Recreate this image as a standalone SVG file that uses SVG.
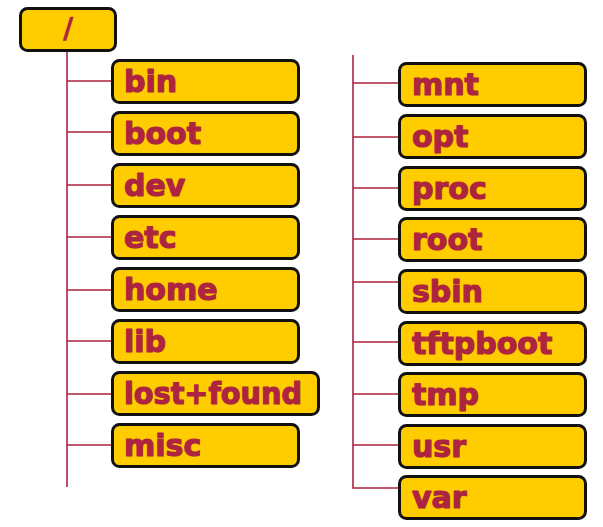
<svg xmlns="http://www.w3.org/2000/svg" width="603" height="527" viewBox="0 0 603 527">
<style>
.box{fill:#FFCC00;stroke:#111;stroke-width:3}
.lbl{font-family:"DejaVu Sans",Verdana,sans-serif;font-weight:bold;font-size:30px;fill:#AD2440;stroke:#AD2440;stroke-width:1.2;stroke-linejoin:round}
.ln{stroke:#AD2440;stroke-width:1.6;fill:none}
</style>
<rect width="603" height="527" fill="#fff"/>
<g id="connectors">
<path class="ln" d="M67 52V487"/>
<path class="ln" d="M67 81H111M67 132H111M67 185H111M67 237H111M67 290H111M67 341H111M67 394H111M67 445H111"/>
<path class="ln" d="M353 55V488H398"/>
<path class="ln" d="M353 83H398M353 137H398M353 188H398M353 239H398M353 282H398M353 342H398M353 394H398M353 445H398"/>
</g>
<g id="root"><rect class="box" x="20.5" y="8.5" width="95" height="42" rx="7"/><text class="lbl" x="68" y="38" text-anchor="middle" style="font-size:28px;stroke-width:0.4">/</text></g>
<g id="bin"><rect class="box" x="112.5" y="60.5" width="186" height="42" rx="7"/><text class="lbl" x="124" y="92">bin</text></g>
<g id="boot"><rect class="box" x="112.5" y="112.5" width="186" height="42" rx="7"/><text class="lbl" x="124" y="144">boot</text></g>
<g id="dev"><rect class="box" x="112.5" y="164.5" width="186" height="42" rx="7"/><text class="lbl" x="124" y="196">dev</text></g>
<g id="etc"><rect class="box" x="112.5" y="216.5" width="186" height="42" rx="7"/><text class="lbl" x="124" y="248">etc</text></g>
<g id="home"><rect class="box" x="112.5" y="268.5" width="186" height="42" rx="7"/><text class="lbl" x="124" y="300">home</text></g>
<g id="lib"><rect class="box" x="112.5" y="320.5" width="186" height="42" rx="7"/><text class="lbl" x="124" y="352">lib</text></g>
<g id="lost_found"><rect class="box" x="112.5" y="372.5" width="206" height="42" rx="7"/><text class="lbl" x="124" y="404" textLength="178" lengthAdjust="spacingAndGlyphs">lost+found</text></g>
<g id="misc"><rect class="box" x="112.5" y="424.5" width="186" height="42" rx="7"/><text class="lbl" x="124" y="456">misc</text></g>
<g id="mnt"><rect class="box" x="399.5" y="63.5" width="186" height="42" rx="7"/><text class="lbl" x="412" y="95">mnt</text></g>
<g id="opt"><rect class="box" x="399.5" y="115.5" width="186" height="42" rx="7"/><text class="lbl" x="412" y="147">opt</text></g>
<g id="proc"><rect class="box" x="399.5" y="167.5" width="186" height="42" rx="7"/><text class="lbl" x="412" y="199">proc</text></g>
<g id="root_dir"><rect class="box" x="399.5" y="218.5" width="186" height="42" rx="7"/><text class="lbl" x="412" y="250">root</text></g>
<g id="sbin"><rect class="box" x="399.5" y="270.5" width="186" height="42" rx="7"/><text class="lbl" x="412" y="302">sbin</text></g>
<g id="tftpboot"><rect class="box" x="399.5" y="322.5" width="186" height="42" rx="7"/><text class="lbl" x="412" y="354">tftpboot</text></g>
<g id="tmp"><rect class="box" x="399.5" y="373.5" width="186" height="42" rx="7"/><text class="lbl" x="412" y="405">tmp</text></g>
<g id="usr"><rect class="box" x="399.5" y="425.5" width="186" height="42" rx="7"/><text class="lbl" x="412" y="457">usr</text></g>
<g id="var"><rect class="box" x="399.5" y="476.5" width="186" height="42" rx="7"/><text class="lbl" x="412" y="508">var</text></g>
</svg>
